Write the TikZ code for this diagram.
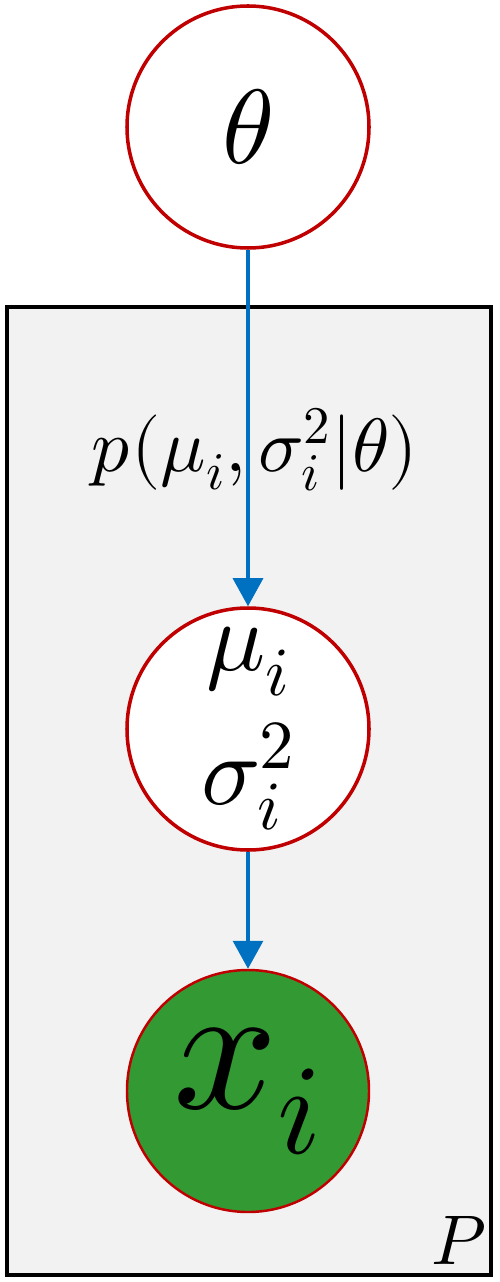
\documentclass[tikz,border=0pt]{standalone}
\usepackage{amsmath}
\usepackage{unicode-math}
\setmathfont{Latin Modern Math}
\usepackage{tikz}
\usetikzlibrary{arrows.meta}

\definecolor{nodered}{HTML}{C00000}
\definecolor{arrowblue}{HTML}{0070C0}
\definecolor{obsgreen}{HTML}{339933}
\definecolor{plategray}{HTML}{F2F2F2}

\begin{document}
\begin{tikzpicture}[
    latent/.style={circle, draw=nodered, line width=2pt, fill=white, minimum size=4.84cm, inner sep=0pt, align=center},
    observed/.style={latent, fill=obsgreen, line width=1.4pt},
    edge/.style={draw=arrowblue, line width=1.8pt, -{Triangle[width=0.6cm, length=0.56cm]}}
]
    \useasboundingbox (0,0) rectangle (9.98,-25.64);

    \draw[fill=plategray, line width=2pt] (0.14,-6.14) rectangle (9.82,-25.5);

    \node[latent] (theta) at (4.96,-2.54) {\fontsize{60}{66}\selectfont $\theta$};
    \node[latent, font=\fontsize{56}{76}\selectfont] (musigma) at (4.96,-14.58) {$\mu_i$\\$\sigma_i^2$};
    \node[observed] (x) at (4.96,-21.82) {\fontsize{104}{110}\selectfont $x_i$};

    \draw[edge] (theta) -- (musigma);
    \draw[edge] (musigma) -- (x);

    \node (prior) at (5.1,-9.0) {\fontsize{43}{50}\selectfont $p(\mu_i,\sigma_i^2|\theta)$};
    \node (plate) at (9.18,-24.8) {\fontsize{40}{48}\selectfont $P$};
\end{tikzpicture}
\end{document}
